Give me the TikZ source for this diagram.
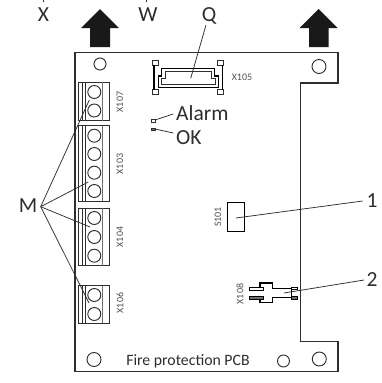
\documentclass[tikz,border=0pt]{standalone}
\usepackage{fontspec}
\setmainfont{Carlito}
\definecolor{ink}{HTML}{2E2E2E}
\definecolor{soft}{HTML}{505050}
\definecolor{pale}{HTML}{707070}
\tikzset{
  board/.style={draw=ink,line width=1.1pt},
  hole/.style={circle,draw=ink,line width=0.95pt,minimum size=#1,inner sep=0pt,fill=white},
  biglabel/.style={text=ink,font=\fontsize{21.5}{23}\selectfont,inner sep=0pt},
  tinylabel/.style={text=soft,font=\fontsize{10}{11}\selectfont,inner sep=0pt,rotate=90},
  leader/.style={draw=ink,line width=0.75pt},
  upbig/.style={fill=black!90,draw=none},
  termbox/.style={draw=ink,line width=0.9pt,fill=white},
  thin grey/.style={draw=pale,line width=0.7pt},
  thickbar/.style={draw=black,line width=1.8pt},
  tab/.style={draw=ink,line width=0.75pt,fill=white},
}
\newcommand{\terminal}[2]{%
  \draw[termbox] (78.8,#1) rectangle (109.5,#2);
  \draw[draw=ink,line width=0.7pt] (82.2,#1) -- (82.2,#2);
  \draw[draw=ink,line width=0.95pt] (85.7,#1) -- (85.7,#2);
  \draw[thin grey] (102.7,#1) -- (102.7,#2);
}
\begin{document}
\begin{tikzpicture}[x=1pt,y=-1pt]
\useasboundingbox (0,0) rectangle (382,383);
% board
\draw[board] (75,52.5) -- (338,52.5) -- (338,83) -- (300.7,83) -- (300.7,341.7) -- (338,341.7) -- (338,371.7) -- (75,371.7) -- cycle;
% arrows
\fill[upbig] (100,9) -- (119,28) -- (110,28) -- (110,47) -- (90,47) -- (90,28) -- (81,28) -- cycle;
\fill[upbig] (318.5,9) -- (337.5,28) -- (328.5,28) -- (328.5,47) -- (309,47) -- (309,28) -- (299.5,28) -- cycle;
% holes
\node[hole=12pt] (h1) at (100,64) {};
\node[hole=14pt] (h2) at (319,66.5) {};
\node[hole=14pt] (h3) at (94,359.5) {};
\node[hole=12pt] (h4) at (283.5,361) {};
\node[hole=14pt] (h5) at (319.3,359) {};
% terminals
\terminal{82}{120.5}
\terminal{125.7}{201}
\terminal{208}{265.7}
\terminal{285.7}{323}
\foreach \n/\y in {a/92,b/110.5,c/135.7,d/154,e/172.7,f/191,g/218,i/237,j/255.7,k/295,l/314}{
  \node[hole=13pt] (t\n) at (94.3,\y) {};
}
% X105 connector
\draw[tab] (152.7,60.7) rectangle (158.7,65.7);
\draw[tab] (152.7,89.3) rectangle (158.7,94.3);
\draw[tab] (217,60.7) rectangle (223.5,65.7);
\draw[tab] (217,89.3) rectangle (223.5,94.3);
\draw[thickbar] (154,65) -- (154,90);
\draw[thickbar] (222.5,65) -- (222.5,90);
\draw[draw=black,line width=1.1pt] (161.7,68.3) -- (214.5,68.3) -- (214.5,76) -- (218.5,76) -- (218.5,87.3) -- (158.5,87.3) -- (158.5,76) -- (161.7,76) -- cycle;
\draw[draw=ink,line width=0.85pt] (165,71.5) -- (211.5,71.5) -- (211.5,78.5) -- (215.5,78.5) -- (215.5,84.5) -- (161.5,84.5) -- (161.5,78.5) -- (165,78.5) -- cycle;
% LEDs
\draw[tab,line width=0.8pt] (151,119.5) rectangle (155,122);
\draw[tab,line width=0.8pt,fill=pale] (151,128) rectangle (155,130.5);
% S101
\node[draw=black,line width=0.95pt,fill=white,minimum width=17pt,minimum height=28.6pt,inner sep=0pt] (sw) at (236,217) {};
% X108
\draw[draw=black,line width=1.1pt,fill=white] (260,288) -- (260,283) -- (272.7,283) -- (272.7,288.3) -- (291.5,288.3) -- (291.5,297.5) -- (272.7,297.5) -- (272.7,302.7) -- (260,302.7) -- (260,298) ;
\draw[tab,draw=black,line width=0.8pt] (249,287.5) rectangle (263,290);
\draw[draw=black,line width=0.8pt,fill=pale] (249,296.8) rectangle (263,299.3);
\draw[tab,draw=black,line width=0.8pt] (291.5,287.2) rectangle (297.7,289.5);
\draw[draw=black,line width=0.8pt,fill=pale] (291.5,296.8) rectangle (297.7,299.2);
% labels
\node[biglabel] (lx) at (43.5,15) {X};
\node[biglabel] (lw) at (148,15) {W};
\node[biglabel] (lq) at (209,16) {Q};
\node[biglabel,anchor=west] (lalarm) at (176,112.7) {Alarm};
\node[biglabel,anchor=west] (lok) at (176,138) {OK};
\node[biglabel] (lm) at (28,205.7) {M};
\node[biglabel] (l1) at (372,200.5) {1};
\node[biglabel] (l2) at (372,279.5) {2};
\node[text=ink,font=\fontsize{15.8}{17}\selectfont,inner sep=0pt] (lpcb) at (188,361) {Fire protection PCB};
\node[tinylabel] (x107) at (120,102) {X107};
\node[tinylabel] (x103) at (120,164) {X103};
\node[tinylabel] (x104) at (120,237) {X104};
\node[tinylabel] (x106) at (120,303) {X106};
\node[tinylabel] (x108) at (240,294) {X108};
\node[tinylabel] (s101) at (218,217) {S101};
\node[tinylabel,rotate=-90] (x105) at (242,77.5) {X105};
% leader ends
\coordinate (xtop) at (43.5,0);
\coordinate (xend) at (43.5,2);
\coordinate (wtop) at (146.5,0);
\coordinate (wend) at (146.5,2);
\coordinate (qa) at (206,25);
\coordinate (qb) at (190.7,78.3);
\coordinate (ala) at (173.3,114);
\coordinate (alb) at (155,120);
\coordinate (oka) at (173.3,133);
\coordinate (okb) at (155,129);
\coordinate (ma) at (40.7,206.7);
\coordinate (mb1) at (89.3,100);
\coordinate (mb2) at (88.3,182);
\coordinate (mb3) at (90,227);
\coordinate (mb4) at (89,303);
\coordinate (oa) at (362.7,201);
\coordinate (ob) at (236,218);
\coordinate (ta) at (364,280);
\coordinate (tb) at (284,293);
\draw[leader] (xtop) -- (xend);
\draw[leader] (wtop) -- (wend);
\draw[leader] (qa) -- (qb);
\draw[leader] (ala) -- (alb);
\draw[leader] (oka) -- (okb);
\draw[leader] (ma) -- (mb1);
\draw[leader] (ma) -- (mb2);
\draw[leader] (ma) -- (mb3);
\draw[leader] (ma) -- (mb4);
\draw[leader] (oa) -- (ob);
\draw[leader] (ta) -- (tb);
\end{tikzpicture}
\end{document}
